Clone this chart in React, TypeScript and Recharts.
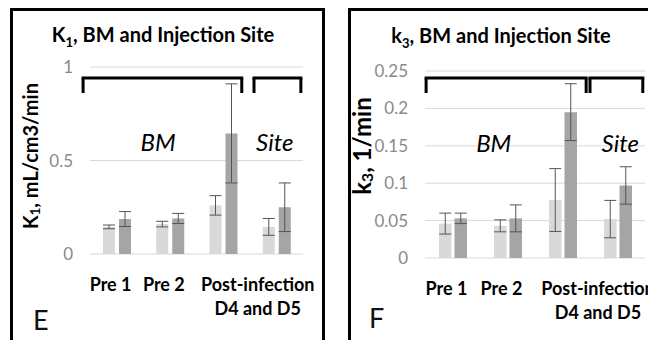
import React from "react";
import {
  BarChart,
  Bar,
  XAxis,
  YAxis,
  CartesianGrid,
  ErrorBar,
  ReferenceLine,
  ScatterChart,
  Scatter,
} from "recharts";

const categories = ["Pre 1", "Pre 2", "Post-infection BM", "Post-infection Site"];
const tickLabels = [["Pre 1"], ["Pre 2"], ["Post-infection", "D4 and D5"], []];

// K1 (mL/cm3/min)
const k1Light = [0.145, 0.16, 0.26, 0.145];
const k1LightErr = [0.01, 0.015, 0.052, 0.045];
const k1Dark = [0.187, 0.19, 0.645, 0.25];
const k1DarkErr = [0.04, 0.027, 0.265, 0.13];
const k1Ticks = [0, 0.5, 1];

// k3 (1/min)
const k3Light = [0.046, 0.043, 0.0775, 0.052];
const k3LightErr = [0.014, 0.008, 0.042, 0.025];
const k3Dark = [0.053, 0.053, 0.195, 0.097];
const k3DarkErr = [0.007, 0.018, 0.038, 0.025];
const k3Ticks = [0, 0.05, 0.1, 0.15, 0.2, 0.25];

const FONT = "Lato, 'Open Sans', sans-serif";
const LIGHT = "#d9d9d9";
const DARK = "#a5a5a5";

const toRows = (light: number[], lightErr: number[], dark: number[], darkErr: number[]) =>
  categories.map((cat, i) => ({ cat, light: light[i], lightErr: lightErr[i], dark: dark[i], darkErr: darkErr[i] }));

function CatTick(props: any) {
  const { x, y, payload, band } = props;
  const lines = tickLabels[categories.indexOf(payload.value)] || [];
  const shift = lines.length > 1 ? band / 2 + 8 : -6;
  return (
    <text textAnchor="middle" fontFamily={FONT} fontWeight={700} fontSize={18} fill="#000">
      {lines.map((l, i) => (
        <tspan key={i} x={x + shift} y={y + 30 + i * 24} dominantBaseline="central">
          {l}
        </tspan>
      ))}
    </text>
  );
}

function YTitle({ cx, cy, main, sub, rest, size }: any) {
  return (
    <text
      transform={`translate(${cx},${cy}) rotate(-90)`}
      textAnchor="middle"
      dominantBaseline="central"
      fontFamily={FONT}
      fontWeight={700}
      fontSize={size}
      fill="#000"
    >
      {main}
      <tspan dy={size * 0.25} fontSize={size * 0.65}>{sub}</tspan>
      <tspan dy={-size * 0.25}>{rest}</tspan>
    </text>
  );
}

function NoteShape(props: any) {
  const { cx, cy, payload } = props;
  return (
    <text x={cx} y={cy} textAnchor="middle" dominantBaseline="central" fontFamily={FONT} fontStyle="italic" fontSize={24} fill="#000">
      {payload.text}
    </text>
  );
}

type Bracket = { x1: number; x2: number; top: number; foot: number };
type Note = { x: number; y: number; text: string };
type Margin = { top: number; right: number; bottom: number; left: number };

type PanelProps = {
  rows: any[];
  ticks: number[];
  yMax: number;
  margin: Margin;
  yWidth: number;
  band: number;
  barSize: number;
  barGap: number;
  yTitle: { cx: number; cy: number; main: string; sub: string; rest: string; size: number };
  brackets: Bracket[];
  notes: Note[];
};

const X_HEIGHT = 60;

function Panel({ rows, ticks, yMax, margin, yWidth, band, barSize, barGap, yTitle, brackets, notes }: PanelProps) {
  // overlay shares the bar chart's plot area, with a 0..4 slot scale on x
  const overlayMargin = {
    top: margin.top,
    right: margin.right,
    bottom: margin.bottom + X_HEIGHT,
    left: margin.left + yWidth,
  };
  return (
    <div style={{ position: "relative", width: 324, height: 340 }}>
      <div style={{ position: "absolute", left: 0, top: 0 }}>
        <BarChart width={324} height={340} data={rows} margin={margin} barSize={barSize} barGap={barGap}>
          <CartesianGrid vertical={false} stroke="#d9d9d9" />
          <XAxis
            dataKey="cat"
            axisLine={false}
            tickLine={false}
            tickSize={0}
            tickMargin={0}
            height={X_HEIGHT}
            interval={0}
            tick={<CatTick band={band} />}
          />
          <YAxis
            domain={[0, yMax]}
            ticks={ticks}
            width={yWidth}
            axisLine={false}
            tickLine={false}
            tickSize={0}
            tickMargin={17}
            tick={{ fill: "#8a8a8a", fontSize: 17, fontFamily: FONT }}
            label={<YTitle {...yTitle} />}
          />
          <Bar dataKey="light" fill={LIGHT} isAnimationActive={false}>
            <ErrorBar dataKey="lightErr" width={6} stroke="#555" strokeWidth={1} direction="y" />
          </Bar>
          <Bar dataKey="dark" fill={DARK} isAnimationActive={false}>
            <ErrorBar dataKey="darkErr" width={6} stroke="#555" strokeWidth={1} direction="y" />
          </Bar>
        </BarChart>
      </div>
      <div style={{ position: "absolute", left: 0, top: 0 }}>
        <ScatterChart width={324} height={340} margin={overlayMargin}>
          <XAxis type="number" dataKey="x" domain={[0, 4]} allowDataOverflow hide />
          <YAxis type="number" dataKey="y" domain={[0, yMax]} allowDataOverflow hide />
          {brackets.flatMap((b, i) => [
            <ReferenceLine key={`t${i}`} ifOverflow="visible" stroke="#000" strokeWidth={3} strokeLinecap="square"
              segment={[{ x: b.x1, y: b.top }, { x: b.x2, y: b.top }]} />,
            <ReferenceLine key={`l${i}`} ifOverflow="visible" stroke="#000" strokeWidth={3}
              segment={[{ x: b.x1, y: b.top }, { x: b.x1, y: b.foot }]} />,
            <ReferenceLine key={`r${i}`} ifOverflow="visible" stroke="#000" strokeWidth={3}
              segment={[{ x: b.x2, y: b.top }, { x: b.x2, y: b.foot }]} />,
          ])}
          <Scatter data={notes} shape={<NoteShape />} isAnimationActive={false} />
        </ScatterChart>
      </div>
    </div>
  );
}

const abs = (left: number, top: number): React.CSSProperties => ({ position: "absolute", left, top });

export default function App() {
  return (
    <div style={{ position: "relative", width: 648, height: 340, overflow: "hidden", background: "#fff", fontFamily: FONT }}>
      <style>{"body{margin:0}"}</style>
      <div style={{ ...abs(10, 8), width: 309, height: 329, border: "3px solid #000" }} />
      <div style={{ ...abs(348, 8), width: 340, height: 329, border: "3px solid #000" }} />

      <div style={{ ...abs(13, 21), width: 300, textAlign: "center", fontWeight: 700, fontSize: 20, color: "#000", lineHeight: "27px" }}>
        K<sub style={{ fontSize: 13 }}>1</sub>, BM and Injection Site
      </div>
      <div style={{ ...abs(351, 22), width: 300, textAlign: "center", fontWeight: 700, fontSize: 20, color: "#000", lineHeight: "27px" }}>
        k<sub style={{ fontSize: 13 }}>3</sub>, BM and Injection Site
      </div>

      <div style={abs(0, 0)}>
        <Panel
          rows={toRows(k1Light, k1LightErr, k1Dark, k1DarkErr)}
          ticks={k1Ticks}
          yMax={1}
          margin={{ top: 67, right: 21, bottom: 26, left: 10 }}
          yWidth={80}
          band={53.25}
          barSize={12}
          barGap={4}
          yTitle={{ cx: 30, cy: 156, main: "K", sub: "1", rest: ", mL/cm3/min", size: 20 }}
          brackets={[
            { x1: -0.13, x2: 2.85, top: 0.941, foot: 0.861 },
            { x1: 3.08, x2: 3.96, top: 0.941, foot: 0.861 },
          ]}
          notes={[
            { x: 1.28, y: 0.6, text: "BM" },
            { x: 3.47, y: 0.6, text: "Site" },
          ]}
        />
      </div>
      <div style={abs(324, 0)}>
        <Panel
          rows={toRows(k3Light, k3LightErr, k3Dark, k3DarkErr)}
          ticks={k3Ticks}
          yMax={0.25}
          margin={{ top: 71, right: 3, bottom: 22, left: 11 }}
          yWidth={90}
          band={55}
          barSize={12.5}
          barGap={3}
          yTitle={{ cx: 37, cy: 146, main: "k", sub: "3", rest: ", 1/min", size: 24 }}
          brackets={[
            { x1: 0.02, x2: 2.93, top: 0.2406, foot: 0.2206 },
            { x1: 3.0, x2: 3.96, top: 0.2406, foot: 0.2206 },
          ]}
          notes={[
            { x: 1.25, y: 0.155, text: "BM" },
            { x: 3.55, y: 0.155, text: "Site" },
          ]}
        />
      </div>

      <div style={{ ...abs(33, 303), fontSize: 27, color: "#111", lineHeight: "34px" }}>E</div>
      <div style={{ ...abs(369, 301), fontSize: 27, color: "#111", lineHeight: "34px" }}>F</div>
    </div>
  );
}
